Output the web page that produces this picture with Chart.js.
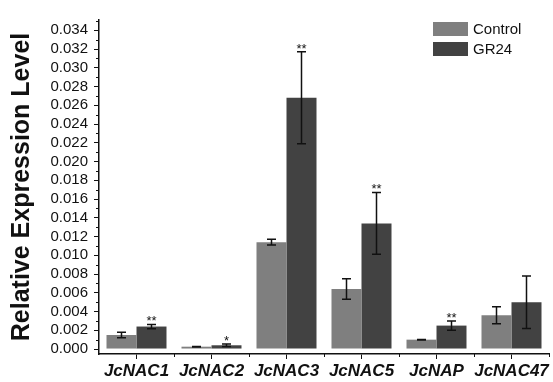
<!DOCTYPE html>
<html>
<head>
<meta charset="utf-8">
<script src="https://cdn.jsdelivr.net/npm/chart.js@4.4.1/dist/chart.umd.min.js"></script>
<style>
  html, body { margin: 0; padding: 0; background: #fff; }
</style>
</head>
<body>
<canvas id="myChart" width="553" height="382"></canvas>
<script>
const categories = ['JcNAC1', 'JcNAC2', 'JcNAC3', 'JcNAC5', 'JcNAP', 'JcNAC47'];
const controlValues = [0.0015, 0.00025, 0.0114, 0.0064, 0.001, 0.0036];
const controlErrors = [0.0003, 0.00003, 0.0003, 0.0011, 0.00003, 0.0009];
const gr24Values = [0.0024, 0.0004, 0.0268, 0.0134, 0.0025, 0.005];
const gr24Errors = [0.00023, 0.00014, 0.0049, 0.0033, 0.0005, 0.0028];
const gr24Stars = ['**', '*', '**', '**', '**', ''];
const yTicks = [0, 0.002, 0.004, 0.006, 0.008, 0.010, 0.012, 0.014, 0.016,
                0.018, 0.020, 0.022, 0.024, 0.026, 0.028, 0.030, 0.032, 0.034];

const FONT = 'Arial, "Liberation Sans", Helvetica, sans-serif';
const INK = '#111';

// error bars + significance stars
const errorBars = {
    id: 'errorBars',
    afterDatasetsDraw(chart) {
        const ctx = chart.ctx;
        const y = chart.scales.y;
        ctx.save();
        ctx.strokeStyle = INK;
        ctx.lineWidth = 1.5;
        chart.data.datasets.forEach((ds, i) => {
            const meta = chart.getDatasetMeta(i);
            meta.data.forEach((bar, j) => {
                const v = ds.data[j], e = ds.errors[j];
                const top = y.getPixelForValue(v + e);
                const bot = y.getPixelForValue(v - e);
                const x = bar.x;
                ctx.beginPath();
                ctx.moveTo(x, top); ctx.lineTo(x, bot);
                ctx.moveTo(x - 4.5, top); ctx.lineTo(x + 4.5, top);
                ctx.moveTo(x - 4.5, bot); ctx.lineTo(x + 4.5, bot);
                ctx.stroke();
                if (ds.stars && ds.stars[j]) {
                    ctx.fillStyle = INK;
                    ctx.font = '13px ' + FONT;
                    ctx.textAlign = 'center';
                    ctx.textBaseline = 'alphabetic';
                    ctx.fillText(ds.stars[j], x, top + 1);
                }
            });
        });
        ctx.restore();
    }
};

// minor ticks and legend box
const extras = {
    id: 'extras',
    afterDraw(chart) {
        const ctx = chart.ctx;
        const y = chart.scales.y;
        const area = chart.chartArea;
        ctx.save();
        ctx.strokeStyle = INK;
        ctx.lineWidth = 1;
        ctx.beginPath();
        for (let k = 1; k <= 35; k += 2) {
            const py = Math.round(y.getPixelForValue(k / 1000)) + 0.5;
            ctx.moveTo(area.left - 3, py); ctx.lineTo(area.left, py);
        }
        const step = (area.right - area.left) / categories.length;
        for (let k = 1; k <= categories.length; k++) {
            const px = Math.round(area.left + k * step) + 0.5;
            ctx.moveTo(px, area.bottom); ctx.lineTo(px, area.bottom + 3);
        }
        ctx.stroke();

        // legend
        chart.data.datasets.forEach((ds, i) => {
            const ly = 22 + i * 20;
            ctx.fillStyle = ds.backgroundColor;
            ctx.fillRect(433, ly, 35, 14);
            ctx.fillStyle = INK;
            ctx.font = '15px ' + FONT;
            ctx.textAlign = 'left';
            ctx.textBaseline = 'middle';
            ctx.fillText(ds.label, 473, ly + 7.5);
        });
        ctx.restore();
    }
};

const ctx = document.getElementById('myChart').getContext('2d');
new Chart(ctx, {
    type: 'bar',
    data: {
        labels: categories,
        datasets: [
            { label: 'Control', data: controlValues, errors: controlErrors,
              backgroundColor: '#7f7f7f' },
            { label: 'GR24', data: gr24Values, errors: gr24Errors, stars: gr24Stars,
              backgroundColor: '#424242' }
        ]
    },
    options: {
        responsive: false,
        animation: false,
        categoryPercentage: 0.8,
        barPercentage: 1.0,
        layout: { padding: { top: 20, right: 4, left: 0, bottom: 0 } },
        plugins: { legend: { display: false }, tooltip: { enabled: false } },
        scales: {
            x: {
                grid: { offset: false, drawOnChartArea: false, tickLength: 5, color: INK },
                border: { color: INK, width: 1.5 },
                ticks: { font: { family: FONT, size: 17, weight: 'bold', style: 'italic' },
                         color: INK, padding: 2, maxRotation: 0, autoSkip: false },
                afterFit: s => { s.height = 28; }
            },
            y: {
                min: -0.00053,
                max: 0.0351,
                afterBuildTicks: s => { s.ticks = yTicks.map(v => ({ value: v })); },
                grid: { drawOnChartArea: false, tickLength: 5, color: INK },
                border: { color: INK, width: 1.5 },
                ticks: { callback: v => v.toFixed(3), font: { family: FONT, size: 15 },
                         color: INK, padding: 6, autoSkip: false },
                title: { display: true, text: 'Relative Expression Level', color: INK,
                         font: { family: FONT, size: 25, weight: 'bold' },
                         padding: { top: 7, bottom: 0 } },
                afterFit: s => { s.width = 99; }
            }
        }
    },
    plugins: [errorBars, extras]
});
</script>
</body>
</html>
